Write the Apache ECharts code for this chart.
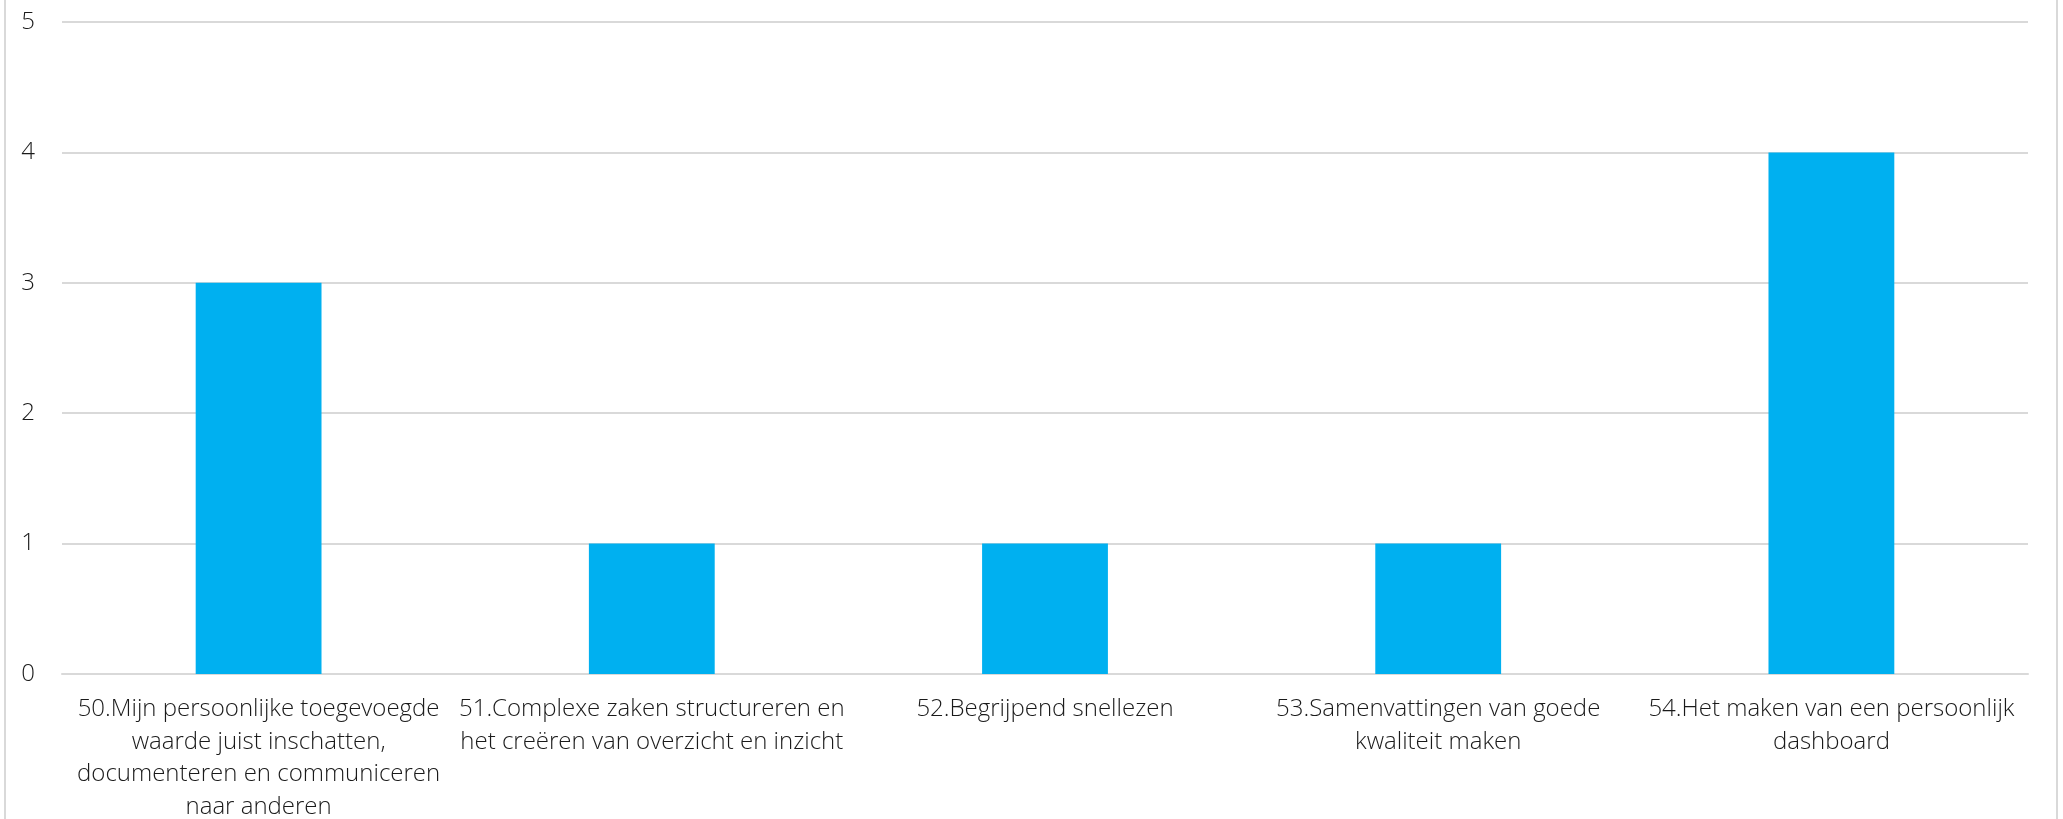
<!DOCTYPE html>
<html>
<head>
<meta charset="utf-8">
<script src="https://cdn.jsdelivr.net/npm/echarts@6/dist/echarts.min.js"></script>
<style>
  html, body { margin: 0; padding: 0; background: #fff; }
  #chart { width: 2063px; height: 819px; }
</style>
</head>
<body>
<div id="chart"></div>
<script>
// Category labels (line breaks as they wrap under each bar)
const categories = [
  '50.Mijn persoonlijke toegevoegde\nwaarde juist inschatten,\ndocumenteren en communiceren\nnaar anderen',
  '51.Complexe zaken structureren en\nhet creëren van overzicht en inzicht',
  '52.Begrijpend snellezen',
  '53.Samenvattingen van goede\nkwaliteit maken',
  '54.Het maken van een persoonlijk\ndashboard'
];
const counts = [3, 1, 1, 1, 4];
const yTicks = { min: 0, max: 5, interval: 1 };

const chart = echarts.init(document.getElementById('chart'), null, { renderer: 'canvas' });
const FONT = '"Open Sans", "Noto Sans", sans-serif';

chart.setOption({
  backgroundColor: '#ffffff',
  animation: false,
  graphic: [{
    type: 'rect',
    shape: { x: 5, y: -10, width: 2052, height: 840 },
    style: { fill: 'none', stroke: '#d9d9d9', lineWidth: 2 },
    silent: true
  }],
  grid: {
    left: 62, right: 35, top: 22, bottom: 145,
    containLabel: false,
    outerBoundsMode: 'none'
  },
  xAxis: {
    type: 'category',
    data: categories,
    axisLine: { show: true, lineStyle: { color: '#d9d9d9', width: 2 } },
    axisTick: { show: false },
    axisLabel: {
      interval: 0,
      margin: 19,
      color: '#1a1a1a',
      fontFamily: FONT,
      fontWeight: 300,
      fontSize: 24,
      lineHeight: 32.5,
      align: 'center'
    }
  },
  yAxis: {
    type: 'value',
    min: yTicks.min,
    max: yTicks.max,
    interval: yTicks.interval,
    axisLine: { show: false },
    axisTick: { show: false },
    splitLine: { lineStyle: { color: '#d9d9d9', width: 2 } },
    axisLabel: {
      margin: 27,
      color: '#1a1a1a',
      fontFamily: FONT,
      fontWeight: 300,
      fontSize: 24
    }
  },
  series: [{
    type: 'bar',
    data: counts,
    barWidth: '32%',
    itemStyle: { color: '#00b0f0' }
  }]
});
</script>
</body>
</html>
